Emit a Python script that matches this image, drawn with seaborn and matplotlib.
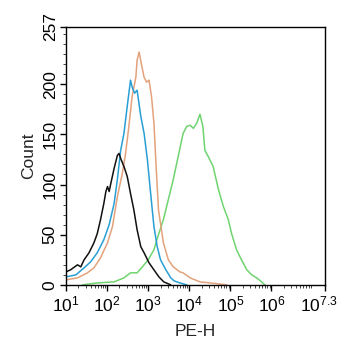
import numpy as np
import pandas as pd
import matplotlib
matplotlib.use("Agg")
import matplotlib.pyplot as plt
import matplotlib.ticker as mticker
import matplotlib.transforms as mtransforms
import seaborn as sns

# Histogram traces: log10(PE-H) channel position and event count
black_log = [1.00, 1.11, 1.28, 1.36, 1.44, 1.56, 1.68, 1.76, 1.84, 1.92, 1.97, 2.01,
             2.05, 2.09, 2.17, 2.25, 2.29, 2.33, 2.41, 2.49, 2.57, 2.65, 2.73, 2.82,
             2.90, 3.02, 3.14, 3.26, 3.38, 3.55]
black_cnt = [13, 15, 20, 18, 25, 32, 42, 51, 65, 81, 93, 98,
             93, 101, 116, 129, 131, 126, 118, 108, 91, 75, 55, 38,
             32, 22, 15, 8, 3, 0]

blue_log = [1.00, 1.24, 1.44, 1.60, 1.76, 1.92, 2.05, 2.17, 2.25, 2.33, 2.41, 2.49,
            2.57, 2.61, 2.67, 2.73, 2.82, 2.90, 2.98, 3.06, 3.14, 3.22, 3.30, 3.43,
            3.55, 3.63, 3.77, 3.94]
blue_cnt = [8, 10, 17, 23, 32, 45, 60, 81, 105, 134, 151, 178,
            204, 197, 191, 194, 168, 151, 125, 91, 58, 38, 25, 15,
            7, 4, 2, 0]

orange_log = [1.00, 1.28, 1.52, 1.68, 1.84, 2.01, 2.13, 2.25, 2.37, 2.45, 2.53, 2.61,
              2.70, 2.73, 2.78, 2.83, 2.90, 2.96, 3.02, 3.08, 3.14, 3.19, 3.25, 3.37,
              3.49, 3.61, 3.77, 3.85, 4.02, 4.26, 4.50, 4.91]
orange_cnt = [5, 7, 12, 17, 27, 42, 58, 88, 111, 131, 158, 188,
              207, 224, 232, 221, 207, 202, 204, 188, 161, 120, 75, 42,
              25, 18, 13, 12, 7, 3, 2, 0]

green_log = [1.40, 1.76, 2.17, 2.41, 2.57, 2.73, 2.86, 3.00, 3.14, 3.21, 3.37, 3.49,
             3.61, 3.73, 3.85, 3.94, 4.02, 4.10, 4.18, 4.26, 4.33, 4.38, 4.46, 4.58,
             4.71, 4.83, 4.95, 5.03, 5.15, 5.27, 5.40, 5.52, 5.64, 5.76, 5.84]
green_cnt = [0, 2, 3, 7, 12, 12, 18, 25, 35, 45, 65, 85,
             105, 128, 151, 158, 159, 156, 161, 170, 158, 134, 128, 118,
             95, 78, 65, 51, 35, 25, 15, 10, 7, 3, 0]

x_tick_exps = [1, 2, 3, 4, 5, 6, 7.3]
x_tick_labels = ["$10^{1}$", "$10^{2}$", "$10^{3}$", "$10^{4}$", "$10^{5}$", "$10^{6}$", "$10^{7.3}$"]
y_ticks = [0, 50, 100, 150, 200, 257]

sns.set_style("ticks")
plt.rcParams["font.family"] = ["Liberation Sans", "DejaVu Sans"]
plt.rcParams["mathtext.fontset"] = "custom"
plt.rcParams["mathtext.rm"] = "Liberation Sans"
plt.rcParams["mathtext.it"] = "Liberation Sans"

frames = []
for name, xs, ys in [("black", black_log, black_cnt), ("blue", blue_log, blue_cnt),
                     ("orange", orange_log, orange_cnt), ("green", green_log, green_cnt)]:
    frames.append(pd.DataFrame({"PE-H": np.power(10.0, xs), "Count": ys, "sample": name}))
df = pd.concat(frames, ignore_index=True)

palette = {"black": "#111111", "blue": "#2a9fd4", "orange": "#e3a27c", "green": "#6fd46f"}

fig = plt.figure(figsize=(3.42, 3.50), dpi=100)
ax = fig.add_axes([0.193, 0.186, 0.757, 0.737])

ax.set_xscale("log")
sns.lineplot(data=df, x="PE-H", y="Count", hue="sample", palette=palette,
             hue_order=["green", "orange", "blue", "black"],
             sort=False, estimator=None, linewidth=1.1, legend=False, ax=ax)

ax.set_xlim(10 ** 1, 10 ** 7.3)
ax.set_ylim(0, 257)
ax.set_xticks([10 ** e for e in x_tick_exps])
ax.set_xticklabels(x_tick_labels)
ax.xaxis.set_minor_locator(mticker.LogLocator(base=10, subs=np.arange(2, 10), numticks=20))
ax.xaxis.set_minor_formatter(mticker.NullFormatter())
ax.set_yticks(y_ticks)
ax.set_yticklabels([str(v) for v in y_ticks], rotation=90, va="center")
ax.yaxis.set_minor_locator(mticker.MultipleLocator(10))

for s in ax.spines.values():
    s.set_visible(True)
    s.set_linewidth(1.0)
    s.set_color("black")

ax.tick_params(axis="both", which="major", length=4, width=1, labelsize=12.5, colors="black")
ax.tick_params(axis="both", which="minor", length=2, width=0.6)
ax.tick_params(axis="x", pad=3)
ax.tick_params(axis="y", pad=2)
ax.set_xlabel("PE-H", fontsize=12.5, labelpad=7)
ax.set_ylabel("Count", fontsize=12.5, labelpad=5)

# pull the last decade label inward so it stays inside the figure
last = ax.get_xticklabels()[-1]
last.set_transform(last.get_transform() +
                   mtransforms.ScaledTranslation(-0.06, 0, fig.dpi_scale_trans))

fig.savefig("out.png", dpi=100)
